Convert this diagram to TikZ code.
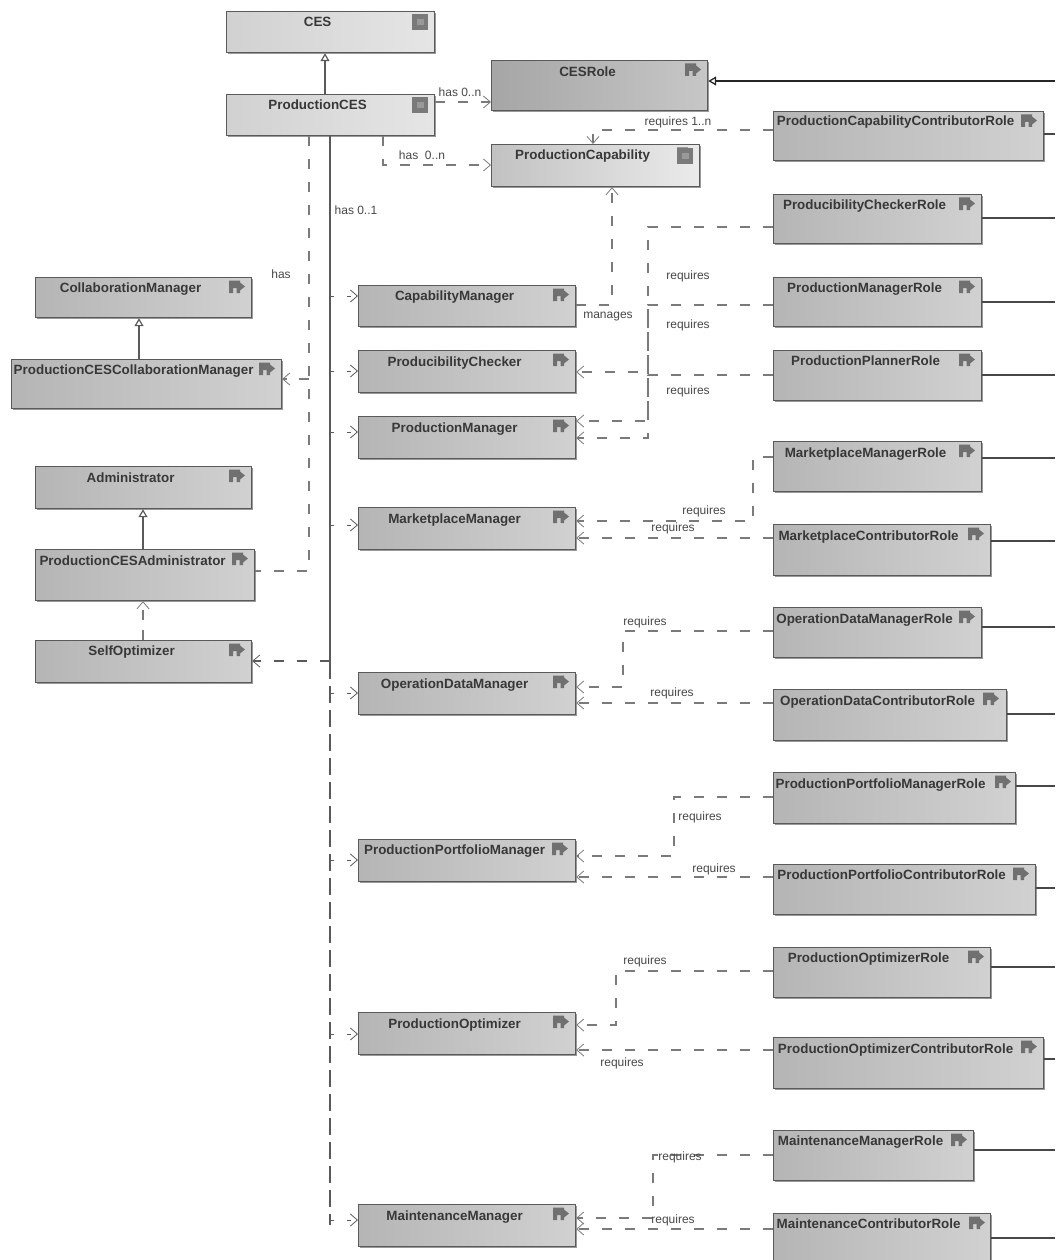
\documentclass[tikz,border=0pt]{standalone}
\usepackage{fontspec}
\setmainfont{Liberation Sans}
\usetikzlibrary{arrows.meta,shadows,calc}
\definecolor{edge}{HTML}{5A5A5A}
\definecolor{dashc}{HTML}{7A7A7A}
\definecolor{icon}{HTML}{707070}
\tikzset{
  x=1pt,y=-1pt,
  umlbox/.style={draw=edge,line width=1.2pt,anchor=north west,inner sep=0pt,align=left,
    font=\fontsize{13.4}{15}\selectfont\bfseries,text=black!78,
    drop shadow={shadow xshift=1.8pt,shadow yshift=-1.8pt,fill=black!50,opacity=.8}},
  plain/.style={left color=black!29,right color=black!18},
  pale/.style={left color=black!18,right color=black!10},
  palecap/.style={left color=black!24,right color=black!8},
  midrole/.style={left color=black!35,right color=black!22},
  dep/.style={draw=dashc,line width=1.1pt,dash pattern=on 10pt off 13pt,-{Straight Barb[length=7pt,width=12pt,line width=.8pt]}},
  depplain/.style={draw=dashc,line width=1.1pt,dash pattern=on 10pt off 13pt},
  stub/.style={draw=edge,line width=1pt,dash pattern=on 4pt off 13pt,-{Straight Barb[length=7pt,width=12pt,line width=.8pt]}},
  solidl/.style={draw=black!72,line width=1.2pt},
  gen/.style={draw=edge,line width=1.2pt,-{Triangle[open,length=8pt,width=9pt,fill=white]}},
  lab/.style={font=\fontsize{12}{14}\selectfont,text=black!72,inner sep=0pt},
}
% name, style, x1, y1, x2, y2, text centre x, text centre y, icon x, text
\newcommand\ubox[9]{%
  \pgfmathsetmacro\bw{#5-#3}\pgfmathsetmacro\bh{#6-#4}%
  \pgfmathsetmacro\tb{#8-#4+4.6}\pgfmathsetmacro\td{\bh-\tb}\pgfmathsetmacro\tx{#7-#3}%
  \def\bname{#1}\def\bstyle{#2}\def\bix{#9}%
  \def\bxa{#3}\def\bya{#4}\uboxrest}
\newcommand\uboxrest[1]{%
  \node[umlbox,\bstyle,text width=\bw pt,minimum width=\bw pt,text height=\tb pt,text depth=\td pt] (\bname) at (\bxa,\bya)
    {\hspace*{\tx pt}\makebox[0pt][c]{#1}};
  \fill[icon] (\bix,\bya+3.5) -- ++(11,0) -- ++(0,2) -- ++(5,4) -- ++(-5,4) -- ++(0,2.5) -- ++(-3.5,0) -- ++(0,-5) -- ++(-3.5,0) -- ++(0,5) -- ++(-4,0) -- cycle;}
\newcommand\sq[2]{\fill[black!52] (#1,#2) rectangle ++(16,16);\fill[black!40] (#1+5,#2+5) rectangle ++(7,6);}
\begin{document}
\begin{tikzpicture}
\useasboundingbox (0,0) rectangle (1055,1260);
% upper classes
\ubox{ces}{pale}{226}{11}{434}{52}{317}{21}{412}{CES}
\sq{412}{14}
\ubox{pces}{pale}{226}{94}{434}{135}{317}{104}{412}{ProductionCES}
\sq{412}{97}
\ubox{cesrole}{midrole}{491}{60}{707}{110}{587}{71}{685}{CESRole}
\ubox{pcap}{palecap}{491}{144}{699}{186}{582}{154}{677}{ProductionCapability}
\sq{677}{148}
% left column
\ubox{collab}{plain}{35}{277}{251}{317}{130}{287}{229}{CollaborationManager}
\ubox{pcollab}{plain}{11}{359}{281}{408}{133}{369}{259}{ProductionCESCollaborationManager}
\ubox{admin}{plain}{35}{466}{251}{508}{130}{477}{229}{Administrator}
\ubox{padmin}{plain}{35}{549}{254}{600}{132}{560}{232}{ProductionCESAdministrator}
\ubox{selfopt}{plain}{35}{640}{251}{682}{131}{650}{229}{SelfOptimizer}
% managers
\ubox{capm}{plain}{358}{285}{575}{326}{454}{295}{553}{CapabilityManager}
\ubox{prodch}{plain}{358}{350}{575}{392}{454}{361}{553}{ProducibilityChecker}
\ubox{prodm}{plain}{358}{416}{575}{458}{454}{427}{553}{ProductionManager}
\ubox{mktm}{plain}{358}{507}{575}{549}{454}{518}{553}{MarketplaceManager}
\ubox{opdm}{plain}{358}{672}{575}{714}{454}{683}{553}{OperationDataManager}
\ubox{portm}{plain}{358}{839}{575}{881}{454}{849}{552}{ProductionPortfolioManager}
\ubox{optm}{plain}{358}{1012}{575}{1054}{454}{1023}{553}{ProductionOptimizer}
\ubox{maintm}{plain}{358}{1204}{575}{1246}{454}{1215}{553}{MaintenanceManager}
% roles
\ubox{rcapc}{plain}{773}{111}{1043}{160}{895}{120}{1021}{ProductionCapabilityContributorRole}
\ubox{rprodch}{plain}{773}{194}{981}{243}{864}{204}{959}{ProducibilityCheckerRole}
\ubox{rprodm}{plain}{773}{277}{981}{326}{864}{287}{959}{ProductionManagerRole}
\ubox{rplan}{plain}{773}{350}{981}{400}{865}{360}{959}{ProductionPlannerRole}
\ubox{rmktm}{plain}{773}{441}{981}{491}{865}{452}{959}{MarketplaceManagerRole}
\ubox{rmktc}{plain}{773}{524}{990}{575}{868}{535}{968}{MarketplaceContributorRole}
\ubox{ropdm}{plain}{773}{607}{981}{657}{864}{618}{959}{OperationDataManagerRole}
\ubox{ropdc}{plain}{773}{689}{1006}{740}{877}{700}{983}{OperationDataContributorRole}
\ubox{rportm}{plain}{773}{772}{1015}{823}{880}{783}{995}{ProductionPortfolioManagerRole}
\ubox{rportc}{plain}{773}{864}{1035}{914}{891}{874}{1013}{ProductionPortfolioContributorRole}
\ubox{roptm}{plain}{773}{947}{990}{997}{868}{957}{968}{ProductionOptimizerRole}
\ubox{roptc}{plain}{773}{1037}{1043}{1088}{895}{1048}{1021}{ProductionOptimizerContributorRole}
\ubox{rmaintm}{plain}{773}{1130}{973}{1180}{860}{1140}{951}{MaintenanceManagerRole}
\ubox{rmaintc}{plain}{773}{1213}{990}{1270}{868}{1223}{969}{MaintenanceContributorRole}
% free ends on the right edge
\foreach \n/\y in {e0/81,e1/134,e2/218,e3/302,e4/375,e5/458,e6/541,e7/627,e8/714,e9/786,e10/888,e11/967,e12/1059,e13/1150,e14/1238}
  \coordinate (\n) at (1055,\y);
\coordinate (trunkdash) at (330,662);
\coordinate (trunkend) at (330,1225);
% generalisations
\draw[gen] (pces.north -| 325,0) -- (ces.south -| 325,0);
\draw[gen] (pcollab.north -| 139,0) -- (collab.south -| 139,0);
\draw[gen] (padmin.north -| 143,0) -- (admin.south -| 143,0);
\draw[gen,draw=black!85,line width=1.3pt] (e0) -- (cesrole.east |- e0);
% role edges
\foreach \n/\r/\y in {e1/rcapc/134,e2/rprodch/218,e3/rprodm/302,e4/rplan/375,e5/rmktm/458,e6/rmktc/541,e7/ropdm/627,e8/ropdc/714,e9/rportm/786,e10/rportc/888,e11/roptm/967,e12/roptc/1059,e13/rmaintm/1150,e14/rmaintc/1238}
  \draw[solidl] (\r.east |- \n) -- (\n);
% production CES links
\draw[dep] (pces.east |- 0,102) -- (cesrole.west |- 0,102);
\draw[dep] (pces.south -| 383,0) -- (383,165) -- (pcap.west |- 0,165);
\draw[draw=edge,line width=1.1pt] (pces.south -| 330,0) -- (trunkdash);
\draw[draw=edge,line width=1.1pt,dash pattern=on 17pt off 7pt] (trunkdash) -- (trunkend);
\draw[depplain] (pces.south -| 309,0) -- (309,571) -- (padmin.east |- 0,571);
\draw[-{Straight Barb[length=7pt,width=12pt,line width=.8pt]},draw=dashc,line width=1.1pt,dash pattern=on 10pt off 12pt] (309,379) -- (pcollab.east |- 0,379);
\draw[dep,draw=edge] (330,661) -- (selfopt.east |- 0,661);
\draw[dep,dash pattern=on 10pt off 10pt] (selfopt.north -| 143,0) -- (padmin.south -| 143,0);
% trunk to managers
\draw[stub] (330,296) -- (capm.west |- 0,296);
\draw[stub] (330,371) -- (prodch.west |- 0,371);
\draw[stub] (330,432) -- (prodm.west |- 0,432);
\draw[stub] (330,525) -- (mktm.west |- 0,525);
\draw[stub] (330,693) -- (opdm.west |- 0,693);
\draw[stub] (330,860) -- (portm.west |- 0,860);
\draw[stub] (330,1034) -- (optm.west |- 0,1034);
\draw[stub] (330,1220) -- (maintm.west |- 0,1220);
% requires links
\draw[dep] (rcapc.west |- 0,130) -- (593,130) -- (pcap.north -| 593,0);
\draw[dep] (capm.east |- 0,305) -- (612,305) -- (pcap.south -| 612,0);
\draw[dep] (rprodch.west |- 0,227) -- (648,227) -- (648,421) -- (prodm.east |- 0,421);
\draw[dep] (rprodm.west |- 0,305) -- (648,305) -- (648,438) -- (prodm.east |- 0,438);
\draw[dep] (rplan.west |- 0,375) -- (648,375) -- (648,372) -- (prodch.east |- 0,372);
\draw[dep] (rmktm.west |- 0,457) -- (753,457) -- (753,521) -- (mktm.east |- 0,521);
\draw[dep] (rmktc.west |- 0,538) -- (mktm.east |- 0,538);
\draw[dep] (ropdm.west |- 0,631) -- (623,631) -- (623,687) -- (opdm.east |- 0,687);
\draw[dep] (ropdc.west |- 0,703) -- (opdm.east |- 0,703);
\draw[dep] (rportm.west |- 0,797) -- (674,797) -- (674,856) -- (portm.east |- 0,856);
\draw[dep] (rportc.west |- 0,877) -- (portm.east |- 0,877);
\draw[dep] (roptm.west |- 0,971) -- (616,971) -- (616,1025) -- (optm.east |- 0,1025);
\draw[dep] (roptc.west |- 0,1050) -- (optm.east |- 0,1050);
\draw[dep] (rmaintm.west |- 0,1155) -- (653,1155) -- (653,1218) -- (maintm.east |- 0,1218);
\draw[dep] (rmaintc.west |- 0,1229) -- (maintm.east |- 0,1229);
% labels
\node[lab] (l1) at (460,92) {has 0..n};
\node[lab] (l2) at (422,155) {has\ \ 0..n};
\node[lab] (l3) at (356,210) {has 0..1};
\node[lab] (l4) at (281,274) {has};
\node[lab] (l5) at (678,122) {requires 1..n};
\node[lab] (l6) at (608,317) {manages};
\node[lab] (l7) at (688,276) {requires};
\node[lab] (l8) at (688,325) {requires};
\node[lab] (l9) at (688,391) {requires};
\node[lab] (l10) at (704,511) {requires};
\node[lab] (l11) at (673,528) {requires};
\node[lab] (l12) at (645,622) {requires};
\node[lab] (l13) at (672,693) {requires};
\node[lab] (l14) at (700,817) {requires};
\node[lab] (l15) at (714,869) {requires};
\node[lab] (l16) at (645,961) {requires};
\node[lab] (l17) at (622,1063) {requires};
\node[lab] (l18) at (680,1157) {requires};
\node[lab] (l19) at (673,1220) {requires};
\end{tikzpicture}
\end{document}
